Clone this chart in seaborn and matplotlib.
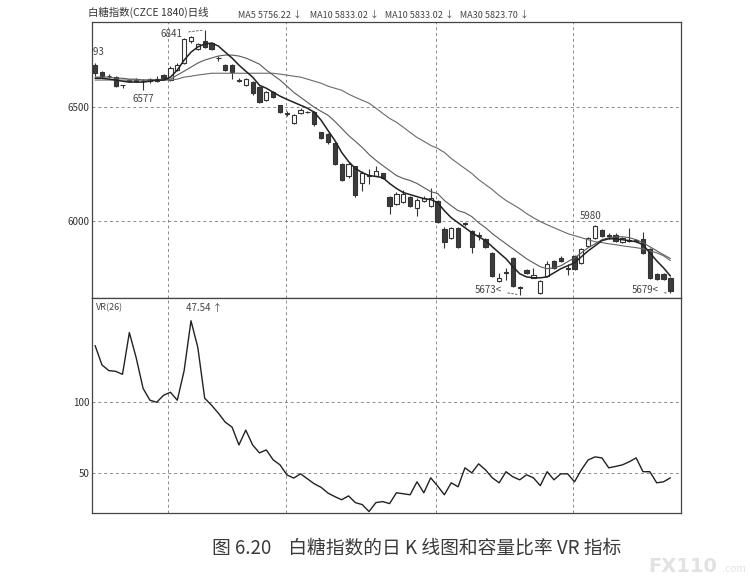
import numpy as np
import pandas as pd
import matplotlib
matplotlib.use("Agg")
import matplotlib.pyplot as plt
import seaborn as sns

# %%
# Daily K-line data of the sugar index (CZCE 1840)
opens = [6686, 6655, 6640, 6633, 6598, 6620, 6617, 6618, 6615, 6626,
         6642, 6619, 6664, 6695, 6790, 6757, 6792, 6783, 6719, 6686,
         6686, 6621, 6597, 6611, 6588, 6531, 6566, 6509, 6475, 6429,
         6473, 6480, 6478, 6389, 6381, 6341, 6252, 6195, 6239, 6168,
         6200, 6199, 6208, 6106, 6075, 6084, 6106, 6058, 6088, 6066,
         6088, 5965, 5925, 5969, 5990, 5956, 5936, 5920, 5858, 5734,
         5772, 5836, 5706, 5783, 5748, 5680, 5757, 5823, 5836, 5790,
         5845, 5814, 5889, 5925, 5960, 5936, 5938, 5907, 5914, 5915,
         5920, 5876, 5765, 5765, 5748]
highs = [6693, 6660, 6645, 6637, 6600, 6625, 6627, 6625, 6628, 6640,
         6646, 6680, 6695, 6805, 6815, 6785, 6841, 6788, 6725, 6690,
         6690, 6628, 6628, 6615, 6592, 6570, 6570, 6512, 6482, 6470,
         6495, 6485, 6482, 6393, 6385, 6345, 6256, 6258, 6243, 6217,
         6230, 6240, 6212, 6110, 6125, 6135, 6110, 6100, 6108, 6142,
         6092, 5970, 5974, 5974, 5995, 5960, 5950, 5925, 5862, 5770,
         5790, 5840, 5712, 5787, 5790, 5738, 5820, 5828, 5845, 5810,
         5850, 5880, 5930, 5980, 5965, 5945, 5945, 5930, 5969, 5920,
         5950, 5880, 5770, 5770, 5752]
lows = [6637, 6630, 6630, 6588, 6584, 6612, 6612, 6577, 6608, 6610,
        6622, 6615, 6660, 6690, 6785, 6752, 6760, 6752, 6705, 6660,
        6625, 6612, 6592, 6555, 6518, 6527, 6540, 6473, 6460, 6425,
        6470, 6475, 6418, 6358, 6340, 6245, 6177, 6190, 6105, 6133,
        6160, 6195, 6182, 6031, 6070, 6080, 6060, 6022, 6084, 6062,
        5990, 5880, 5920, 5880, 5975, 5858, 5915, 5880, 5752, 5730,
        5740, 5708, 5673, 5765, 5745, 5676, 5750, 5788, 5818, 5760,
        5783, 5810, 5885, 5920, 5928, 5920, 5905, 5900, 5905, 5905,
        5855, 5743, 5738, 5738, 5679]
closes = [6650, 6637, 6636, 6593, 6596, 6617, 6622, 6615, 6624, 6615,
          6628, 6673, 6686, 6801, 6808, 6779, 6766, 6757, 6716, 6664,
          6655, 6618, 6624, 6562, 6522, 6566, 6544, 6478, 6472, 6465,
          6487, 6478, 6425, 6363, 6345, 6248, 6181, 6252, 6111, 6212,
          6197, 6217, 6186, 6066, 6119, 6119, 6066, 6093, 6102, 6102,
          5996, 5907, 5969, 5885, 5986, 5885, 5932, 5885, 5757, 5748,
          5768, 5712, 5702, 5770, 5761, 5734, 5810, 5792, 5823, 5786,
          5788, 5876, 5925, 5978, 5934, 5932, 5912, 5925, 5910, 5912,
          5858, 5748, 5743, 5743, 5690]

# moving averages as drawn on the chart
ma5 = [6628, 6628, 6624, 6620, 6615, 6611, 6611, 6611, 6615, 6620,
       6620, 6633, 6664, 6708, 6743, 6766, 6779, 6783, 6770, 6743,
       6717, 6686, 6659, 6633, 6597, 6584, 6566, 6549, 6535, 6522,
       6509, 6496, 6478, 6443, 6398, 6354, 6301, 6261, 6230, 6212,
       6199, 6195, 6190, 6164, 6142, 6124, 6115, 6106, 6097, 6093,
       6080, 6044, 6013, 5991, 5969, 5947, 5929, 5912, 5885, 5858,
       5832, 5797, 5766, 5752, 5748, 5748, 5752, 5770, 5788, 5801,
       5814, 5841, 5867, 5889, 5912, 5920, 5920, 5916, 5912, 5907,
       5894, 5858, 5823, 5792, 5756]
ma10 = [6633, 6633, 6633, 6628, 6628, 6624, 6624, 6620, 6620, 6620,
        6620, 6624, 6642, 6659, 6677, 6695, 6708, 6717, 6726, 6730,
        6730, 6726, 6717, 6704, 6690, 6664, 6642, 6620, 6593, 6566,
        6544, 6522, 6500, 6482, 6465, 6438, 6407, 6376, 6350, 6323,
        6292, 6266, 6243, 6221, 6199, 6186, 6177, 6164, 6146, 6128,
        6120, 6089, 6066, 6044, 6035, 6018, 5991, 5969, 5943, 5920,
        5898, 5876, 5854, 5832, 5814, 5797, 5788, 5792, 5801, 5819,
        5836, 5858, 5881, 5898, 5916, 5925, 5929, 5929, 5925, 5916,
        5903, 5885, 5867, 5850, 5833]
ma30 = [6620, 6620, 6620, 6620, 6620, 6620, 6620, 6620, 6620, 6620,
        6620, 6620, 6624, 6633, 6637, 6642, 6646, 6650, 6650, 6650,
        6650, 6650, 6650, 6650, 6650, 6650, 6650, 6646, 6642, 6637,
        6633, 6624, 6615, 6606, 6593, 6584, 6575, 6558, 6544, 6531,
        6518, 6496, 6473, 6451, 6434, 6412, 6389, 6367, 6350, 6332,
        6319, 6301, 6274, 6252, 6230, 6208, 6181, 6159, 6137, 6111,
        6089, 6071, 6053, 6031, 6013, 5996, 5982, 5969, 5956, 5943,
        5934, 5925, 5916, 5907, 5903, 5898, 5894, 5889, 5885, 5881,
        5876, 5867, 5858, 5845, 5824]

# VR(26)
vr = [139.6, 126.0, 122.0, 121.5, 119.4, 148.7, 131.0, 109.6, 101.2, 99.8,
      104.7, 106.8, 101.2, 122.0, 157.0, 138.2, 102.6, 97.7, 92.1, 85.8,
      82.3, 69.8, 80.2, 69.8, 64.2, 66.3, 59.3, 55.8, 48.8, 46.5,
      49.5, 46.0, 42.5, 40.0, 36.0, 33.5, 31.3, 34.0, 29.3, 27.9,
      23.0, 29.3, 30.0, 28.6, 36.2, 35.5, 34.8, 43.9, 36.2, 46.7,
      41.0, 34.8, 43.2, 40.4, 53.7, 50.2, 56.5, 52.3, 46.7, 43.2,
      51.0, 47.4, 45.3, 48.8, 46.7, 41.2, 51.0, 45.3, 49.5, 49.5,
      43.9, 52.3, 59.3, 61.4, 60.7, 53.7, 54.7, 55.8, 58.0, 60.7,
      51.0, 51.0, 43.2, 43.9, 46.7]

price_ticks = [6000, 6500]
vr_ticks = [50, 100]
grid_x = [10.66, 27.88, 49.78, 69.78]

title_text = "白糖指数(CZCE 1840)日线"
ma_text = "MA5 5756.22 ↓    MA10 5833.02 ↓   MA10 5833.02 ↓   MA30 5823.70 ↓"
caption = "图 6.20    白糖指数的日 K 线图和容量比率 VR 指标"

# %%
df = pd.DataFrame({"i": np.arange(len(closes)), "open": opens, "high": highs,
                   "low": lows, "close": closes, "MA5": ma5, "MA10": ma10,
                   "MA30": ma30, "VR": vr})

sns.set_theme(style="white")
plt.rcParams['font.family'] = ['Noto Sans CJK SC', 'DejaVu Sans']

fig = plt.figure(figsize=(7.5, 5.85), dpi=100)
ax1 = fig.add_axes([0.1227, 0.4906, 0.7853, 0.4718])
ax2 = fig.add_axes([0.1227, 0.1231, 0.7853, 0.3675], sharex=ax1)

ink = "#333333"

# candles
up = df["close"] >= df["open"]
body_lo = df[["open", "close"]].min(axis=1)
body_h = (df["close"] - df["open"]).abs().clip(lower=2)
ax1.vlines(df["i"], df["low"], df["high"], color=ink, lw=0.8, zorder=2)
ax1.bar(df["i"], body_h, bottom=body_lo, width=0.62,
        color=np.where(up, "white", "#3c3c3c"), edgecolor=ink,
        linewidth=0.8, zorder=3)

# moving averages
sns.lineplot(data=df, x="i", y="MA30", ax=ax1, color="#6a6a6a", lw=0.8, zorder=4)
sns.lineplot(data=df, x="i", y="MA10", ax=ax1, color="#5a5a5a", lw=0.8, zorder=4)
sns.lineplot(data=df, x="i", y="MA5", ax=ax1, color="#222222", lw=1.1, zorder=5)

# VR line
sns.lineplot(data=df, x="i", y="VR", ax=ax2, color="#222222", lw=1.0)

for ax in (ax1, ax2):
    ax.set_xlabel("")
    ax.set_ylabel("")
    ax.set_xticks(grid_x)
    ax.grid(True, ls=(0, (3, 3)), color="#8a8a8a", lw=0.7)
    ax.tick_params(axis="x", length=0, labelbottom=False)
    ax.tick_params(axis="y", length=0, pad=2, labelsize=7, labelcolor=ink)
    for s in ax.spines.values():
        s.set_color("#444444")
        s.set_linewidth(0.9)

ax1.set_xlim(-0.45, 85.55)
ax1.set_ylim(5659, 6876)
ax1.set_yticks(price_ticks)
ax2.set_ylim(22, 173)
ax2.set_yticks(vr_ticks)

# high / low marks
lab = dict(fontsize=7, color="#444444", textcoords="offset pixels")
dash = dict(arrowstyle="-", color="#666666", lw=0.7, linestyle=(0, (2, 2)))
ax1.annotate(str(highs[0]), xy=(0, highs[0]), xytext=(9, 11), ha="right",
             va="center", annotation_clip=False, clip_on=True, **lab)
ax1.annotate(str(highs[16]), xy=(16, highs[16]), xytext=(-22, -4), ha="right",
             va="center", arrowprops=dash, **lab)
ax1.annotate(str(lows[7]), xy=(7, lows[7]), xytext=(0, -4), ha="center",
             va="top", **lab)
ax1.annotate(str(lows[62]) + "<", xy=(62, lows[62]), xytext=(-18, 5), ha="right",
             va="center", arrowprops=dash, **lab)
ax1.annotate(str(highs[73]), xy=(73, highs[73]), xytext=(-4, 9), ha="center",
             va="center", **lab)
ax1.annotate(str(lows[84]) + "<", xy=(84, lows[84]), xytext=(-12, 3), ha="right",
             va="center", arrowprops=dash, **lab)

ax2.text(0.006, 0.955, "VR(26)", transform=ax2.transAxes, fontsize=6.5,
         color="#444444", va="center")
ax2.text(0.16, 0.955, "47.54 ↑", transform=ax2.transAxes, fontsize=7,
         color="#444444", va="center")

# header and caption
fig.text(88 / 750, 1 - 12 / 585, title_text, fontsize=7.5, color=ink, va="center")
fig.text(238 / 750, 1 - 15 / 585, ma_text, fontsize=6.5, color="#444444", va="center")
fig.text(417 / 750, 1 - 548 / 585, caption, fontsize=13.5, color="#3a3a3a",
         ha="center", va="center")
fig.text(648 / 750, 1 - 566 / 585, "FX110", fontsize=14, fontweight="bold",
         color="#e2e2e2", va="center", family=["DejaVu Sans"])
fig.text(722 / 750, 1 - 569 / 585, ".com", fontsize=7, color="#e2e2e2",
         va="center", family=["DejaVu Sans"])

fig.savefig("out.png", dpi=100, facecolor="white")
